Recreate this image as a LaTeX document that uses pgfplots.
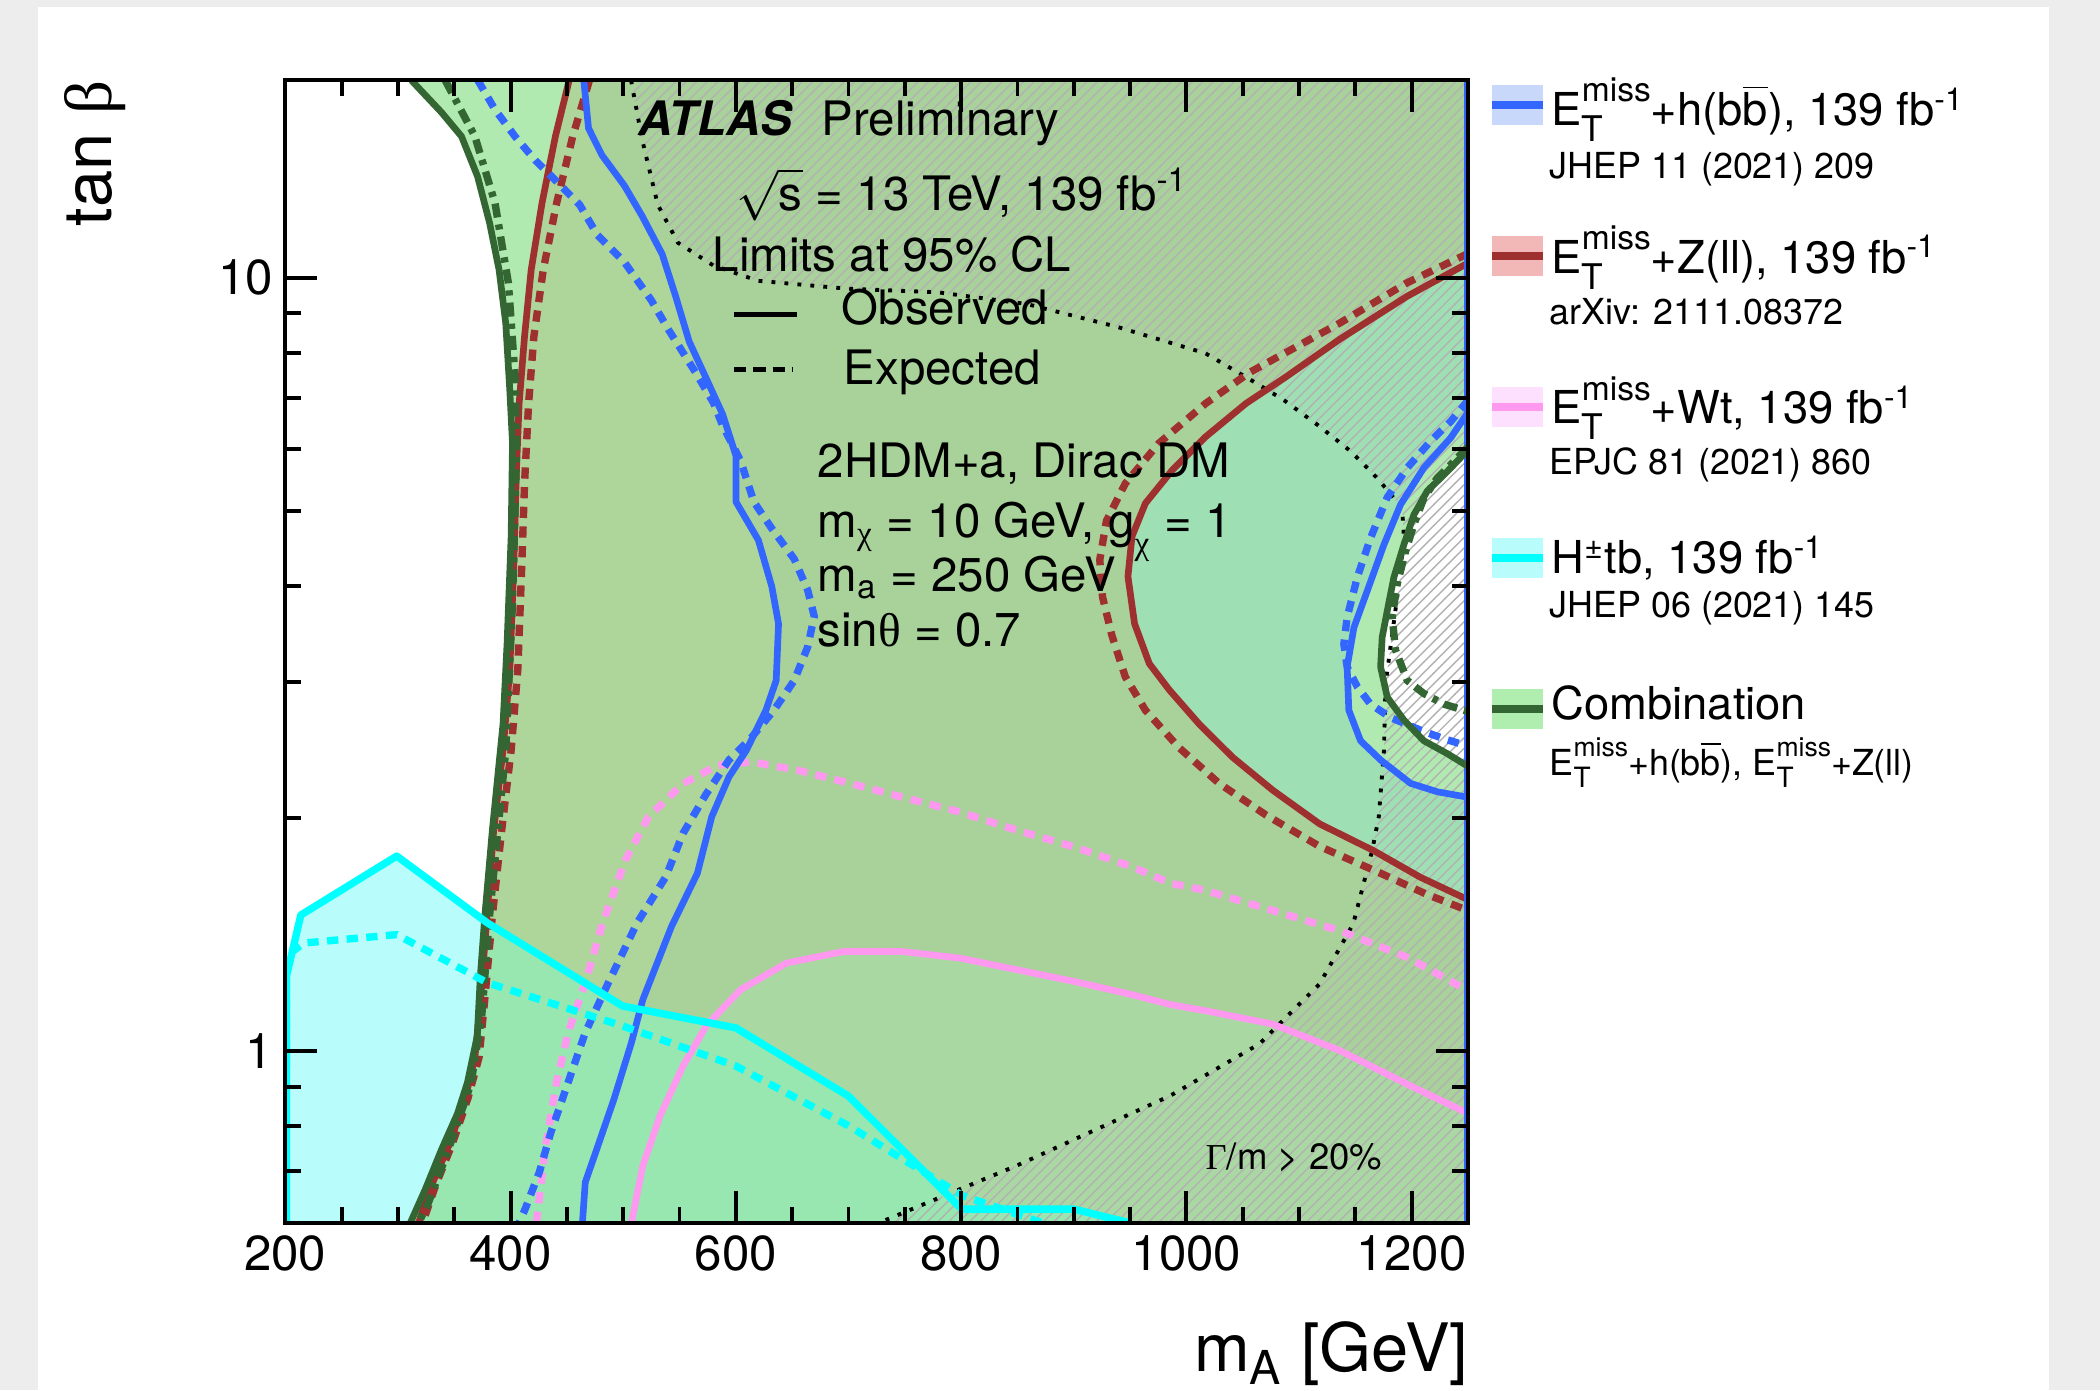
\documentclass[border=0pt]{standalone}
\usepackage{fontspec}
\setmainfont{TeX Gyre Heros}
\newfontfamily\grk{Liberation Serif}
\usepackage{graphicx}
\usepackage{pgfplots}
\pgfplotsset{compat=1.18}
\usetikzlibrary{patterns}
\definecolor{bggray}{HTML}{EDEDED}
\definecolor{cyanonly}{HTML}{B8FCFC}
\definecolor{regA}{HTML}{B0EAB0}
\definecolor{regB}{HTML}{AED69A}
\definecolor{regC}{HTML}{A8D29A}
\definecolor{regD}{HTML}{9EE0B4}
\definecolor{regE}{HTML}{AAD8A2}
\definecolor{regF}{HTML}{98E6B0}
\definecolor{lblue}{HTML}{3366FF}
\definecolor{lred}{HTML}{9E3030}
\definecolor{lpink}{HTML}{FF99F0}
\definecolor{lcyan}{HTML}{00FFFF}
\definecolor{lgreen}{HTML}{336633}
\definecolor{sblue}{HTML}{C8D8FA}
\definecolor{sred}{HTML}{F2B8B8}
\definecolor{spink}{HTML}{FDE0FD}
\definecolor{scyan}{HTML}{B8FCFC}
\definecolor{sgreen}{HTML}{B0EEB0}
\newcommand{\fs}[1]{\fontsize{#1}{#1}\selectfont}
\newcommand{\etmiss}{E\rlap{\raisebox{-0.36em}{\scalebox{0.78}{T}}}\raisebox{0.52em}{\scalebox{0.74}{miss}}}
\newcommand{\bbar}{b$\overline{\mbox{b}}$}
\tikzset{
  sol/.style={line width=1.9pt, line join=round},
  dsh/.style={line width=2.1pt, dash pattern=on 3.2pt off 2.4pt},
  dd/.style={line width=2.1pt, dash pattern=on 4pt off 2pt on 1.5pt off 2pt},
}
\begin{document}
\begin{tikzpicture}
\path[use as bounding box] (0,0) rectangle (210mm,139mm);
\fill[bggray] (0,0) rectangle (210mm,139mm);
\fill[white] (3.75mm,0) rectangle (204.9mm,138.3mm);
\begin{axis}[
  at={(28.53mm,16.72mm)}, anchor=south west,
  scale only axis, width=118.27mm, height=114.24mm,
  xmin=200, xmax=1250, ymin=0.6, ymax=18, ymode=log,
  axis on top,
  xtick={200,400,600,800,1000,1200}, minor x tick num=3,
  ytick={1,10}, yticklabels={1,10},
  minor ytick={0.7,0.8,0.9,2,3,4,5,6,7,8,9},
  tick align=inside, xtick pos=both, ytick pos=both,
  major tick length=3.2mm, minor tick length=1.6mm,
  axis line style={line width=1.1pt},
  tick style={line width=1.1pt, black},
  tick label style={font=\fs{14pt}},
  /pgf/number format/assume math mode=true,
  /pgf/number format/1000 sep={},
]
% ---------- filled regions ----------
\addplot[draw=none, fill=cyanonly] coordinates {(200,0.6) (200,1.25) (213.8,1.5) (298.9,1.788) (379.5,1.465) (499.5,1.144) (600,1.072) (700,0.875) (800.6,0.625) (900.1,0.625) (949.5,0.6)} -- cycle;
\addplot[draw=none, fill=regA] coordinates {(312,18) (338.6,16.37) (356.4,15.24) (370.7,13.52) (381.4,11.77) (389.8,10.24) (395.7,8.74) (399.3,7.16) (401.7,6.11) (400.5,4.63) (396.9,3.37) (393.3,2.65) (383.8,1.93) (377.1,1.494) (373.1,1.246) (370.4,1.046) (361.7,0.911) (352.9,0.831) (338.8,0.747) (324.3,0.663) (311,0.6) (1250,0.6) (1250,18)} -- cycle;
\addplot[draw=none, fill=regB] coordinates {(452,18) (439.8,15.24) (427.9,12.49) (418.3,10.24) (412.4,8.40) (407.6,6.88) (405.2,5.64) (402.9,4.27) (399.3,3.11) (393.3,2.45) (385,1.93) (379,1.496) (373.1,1.151) (368.3,0.982) (360,0.872) (345.7,0.758) (330.2,0.673) (318.3,0.6) (1250,0.6) (1250,18)} -- cycle;
\addplot[draw=none, fill=regC] coordinates {(465,18) (469.2,15.61) (481.1,14.41) (501,13.16) (516.8,12.02) (534.6,10.73) (546.5,9.47) (558.6,8.27) (574.3,7.38) (588.3,6.66) (600.2,5.88) (600.2,5.13) (620,4.58) (631.9,3.99) (637.9,3.57) (635.8,3.015) (626.7,2.76) (609.3,2.449) (593.9,2.263) (578.6,2.01) (565.8,1.698) (542.9,1.45) (517.4,1.166) (507.3,1.026) (491.8,0.867) (476.5,0.747) (466.3,0.677) (463.8,0.6) (1250,0.6) (1250,18)} -- cycle;
\addplot[draw=none, fill=regE] coordinates {(507.3,0.6) (517.4,0.711) (532.7,0.825) (553.1,0.957) (573.6,1.078) (604.2,1.201) (644.9,1.30) (696,1.346) (747,1.346) (798.1,1.32) (849,1.275) (900.1,1.231) (951.2,1.184) (985.8,1.149) (1017.1,1.128) (1076.7,1.084) (1136.2,1.002) (1195.7,0.907) (1250,0.831) (1250,0.6)} -- cycle;
\addplot[draw=none, fill=regD] coordinates {(1250,10.45) (1195.7,9.46) (1136.2,8.33) (1088.6,7.45) (1052.9,6.88) (1017.1,6.23) (987.4,5.64) (963.6,5.11) (951.7,4.63) (948.1,4.11) (954,3.57) (967.1,3.17) (985,2.93) (1011.2,2.65) (1040.9,2.40) (1076.7,2.175) (1118.3,1.968) (1165.9,1.818) (1207.6,1.679) (1250,1.570)} -- cycle;
\addplot[draw=none, fill=regA] coordinates {(1250,6.70) (1234.6,6.21) (1210.8,5.68) (1190.1,5.09) (1175.4,4.52) (1160.6,3.94) (1148.7,3.53) (1142.7,3.14) (1144.2,2.76) (1154.6,2.52) (1172.4,2.38) (1199,2.22) (1222.7,2.165) (1250,2.13)} -- cycle;
\addplot[draw=none, fill=white] coordinates {(1250,5.99) (1231.7,5.62) (1213.8,5.30) (1202,4.94) (1193.1,4.52) (1184.2,4.10) (1178.3,3.71) (1173.8,3.43) (1172.4,3.14) (1178.3,2.87) (1193.1,2.68) (1210.8,2.52) (1231.7,2.425) (1250,2.335)} -- cycle;
\addplot[draw=none, fill=regF] coordinates {(311,0.6) (324.3,0.663) (338.8,0.747) (352.9,0.831) (361.7,0.911) (370.4,1.046) (373.1,1.246) (377.3,1.47) (379.5,1.465) (499.5,1.144) (600,1.072) (700,0.875) (800.6,0.625) (900.1,0.625) (949.5,0.6)} -- cycle;
\addplot[draw=none, pattern=north east lines, pattern color=gray!60] coordinates {(507,18) (516.8,15.09) (530.7,12.43) (548.6,11.10) (580.2,10.37) (620,9.91) (699.4,9.68) (778.7,9.58) (858.1,9.25) (937.5,8.65) (1016.8,7.99) (1059.8,7.34) (1086.4,6.95) (1116.1,6.46) (1145.7,5.97) (1169.4,5.51) (1184.2,5.19) (1191.7,4.99) (1193.1,4.61) (1188.7,4.02) (1182.7,3.46) (1176.8,2.985) (1175.4,2.449) (1170.8,2.01) (1165,1.82) (1148.1,1.461) (1118.3,1.222) (1064.8,1.022) (985.7,0.876) (849,0.711) (727,0.6) (1250,0.6) (1250,18)} -- cycle;
% ---------- width boundary ----------
\addplot[black, line width=1.1pt, dash pattern=on 1.1pt off 2.6pt] coordinates {(507,18) (516.8,15.09) (530.7,12.43) (548.6,11.10) (580.2,10.37) (620,9.91) (699.4,9.68) (778.7,9.58) (858.1,9.25) (937.5,8.65) (1016.8,7.99) (1059.8,7.34) (1086.4,6.95) (1116.1,6.46) (1145.7,5.97) (1169.4,5.51) (1184.2,5.19) (1191.7,4.99) (1193.1,4.61) (1188.7,4.02) (1182.7,3.46) (1176.8,2.985) (1175.4,2.449) (1170.8,2.01) (1165,1.82) (1148.1,1.461) (1118.3,1.222) (1064.8,1.022) (985.7,0.876) (849,0.711) (727,0.6)};
% ---------- Wt ----------
\addplot[lpink, dsh] coordinates {(423,0.6) (430.6,0.747) (440.8,0.911) (451.1,1.057) (466.3,1.226) (481.7,1.465) (502,1.767) (522.5,2.01) (553.1,2.218) (583.8,2.343) (614.3,2.366) (655.1,2.308) (696,2.23) (747,2.132) (798.1,2.04) (849,1.932) (900.1,1.838) (951.2,1.733) (985.8,1.649) (1017.1,1.614) (1136.2,1.432) (1195.7,1.323) (1250,1.198)};
\addplot[lpink, sol] coordinates {(507.3,0.6) (517.4,0.711) (532.7,0.825) (553.1,0.957) (573.6,1.078) (604.2,1.201) (644.9,1.30) (696,1.346) (747,1.346) (798.1,1.32) (849,1.275) (900.1,1.231) (951.2,1.184) (985.8,1.149) (1017.1,1.128) (1076.7,1.084) (1136.2,1.002) (1195.7,0.907) (1250,0.831)};
% ---------- Z(ll) ----------
\addplot[lred, dsh] coordinates {(470,18) (455.2,15.24) (440.9,12.49) (429,10.24) (420.7,8.40) (416,6.88) (412.4,5.42) (410,4.27) (406.4,3.11) (400.5,2.45) (392.1,1.93) (383.8,1.496) (376.7,1.151) (372,0.982) (362.4,0.872) (348.1,0.758) (333.8,0.673) (321.9,0.6)};
\addplot[lred, sol] coordinates {(452,18) (439.8,15.24) (427.9,12.49) (418.3,10.24) (412.4,8.40) (407.6,6.88) (405.2,5.64) (402.9,4.27) (399.3,3.11) (393.3,2.45) (385,1.93) (379,1.496) (373.1,1.151) (368.3,0.982) (360,0.872) (345.7,0.758) (330.2,0.673) (318.3,0.6)};
\addplot[lred, dsh] coordinates {(1250,10.75) (1195.7,9.85) (1136.2,8.74) (1088.6,8.01) (1056.4,7.55) (1017.1,6.88) (975.5,6.11) (945.7,5.42) (929,4.85) (923.1,4.32) (925.5,3.87) (933.8,3.45) (945.7,3.05) (963.6,2.76) (993.3,2.47) (1029,2.22) (1070.7,2.02) (1118.3,1.84) (1171.9,1.70) (1213.6,1.595) (1250,1.52)};
\addplot[lred, sol] coordinates {(1250,10.45) (1195.7,9.46) (1136.2,8.33) (1088.6,7.45) (1052.9,6.88) (1017.1,6.23) (987.4,5.64) (963.6,5.11) (951.7,4.63) (948.1,4.11) (954,3.57) (967.1,3.17) (985,2.93) (1011.2,2.65) (1040.9,2.40) (1076.7,2.175) (1118.3,1.968) (1165.9,1.818) (1207.6,1.679) (1250,1.570)};
% ---------- h(bb) ----------
\addplot[lblue, dsh] coordinates {(371,18) (386.2,16.50) (404,15.23) (421.9,14.19) (439.8,13.37) (461.3,12.43) (477.1,11.36) (501,10.48) (524.8,9.36) (540.6,8.55) (564.4,7.54) (580.2,6.89) (588.3,6.44) (604,5.81) (616.1,5.13) (631.9,4.74) (651.8,4.33) (663.7,3.95) (669.6,3.65) (663.7,3.33) (651.8,3.015) (633.8,2.76) (612.4,2.53) (593.9,2.38) (573.6,2.15) (553.1,1.913) (537.9,1.682) (512.3,1.465) (486.8,1.226) (466.3,1.057) (456.1,0.957) (446,0.867) (435.7,0.785) (425.6,0.698) (412.9,0.625) (407.6,0.6)};
\addplot[lblue, sol] coordinates {(465,18) (469.2,15.61) (481.1,14.41) (501,13.16) (516.8,12.02) (534.6,10.73) (546.5,9.47) (558.6,8.27) (574.3,7.38) (588.3,6.66) (600.2,5.88) (600.2,5.13) (620,4.58) (631.9,3.99) (637.9,3.57) (635.8,3.015) (626.7,2.76) (609.3,2.449) (593.9,2.263) (578.6,2.01) (565.8,1.698) (542.9,1.45) (517.4,1.166) (507.3,1.026) (491.8,0.867) (476.5,0.747) (466.3,0.677) (463.8,0.6)};
\addplot[lblue, dsh] coordinates {(1250,6.94) (1234.6,6.52) (1216.8,6.15) (1196.1,5.68) (1178.3,5.20) (1163.5,4.61) (1151.7,4.10) (1142.7,3.64) (1139.8,3.36) (1142.7,3.14) (1151.7,2.96) (1163.5,2.81) (1181.3,2.70) (1208,2.60) (1228.7,2.535) (1250,2.48)};
\addplot[lblue, sol] coordinates {(1250,6.70) (1234.6,6.21) (1210.8,5.68) (1190.1,5.09) (1175.4,4.52) (1160.6,3.94) (1148.7,3.53) (1142.7,3.14) (1144.2,2.76) (1154.6,2.52) (1172.4,2.38) (1199,2.22) (1222.7,2.165) (1250,2.13)};
\addplot[lblue, line width=2.4pt] coordinates {(1250,0.6) (1250,18)};
% ---------- combination ----------
\addplot[lgreen, dd] coordinates {(342,18) (368.3,15.24) (386.2,12.49) (398.1,9.84) (404,7.45) (405.2,5.87) (401.7,3.80) (395.7,2.45) (381.4,1.50) (374.3,1.106) (364.8,0.908) (344.5,0.744) (326.7,0.635) (318.3,0.6)};
\addplot[lgreen, sol] coordinates {(312,18) (338.6,16.37) (356.4,15.24) (370.7,13.52) (381.4,11.77) (389.8,10.24) (395.7,8.74) (399.3,7.16) (401.7,6.11) (400.5,4.63) (396.9,3.37) (393.3,2.65) (383.8,1.93) (377.1,1.494) (373.1,1.246) (370.4,1.046) (361.7,0.911) (352.9,0.831) (338.8,0.747) (324.3,0.663) (311,0.6)};
\addplot[lgreen, dd] coordinates {(1250,6.04) (1222.7,5.51) (1210.8,5.19) (1202,4.80) (1194.6,4.43) (1187.1,4.02) (1182.7,3.64) (1185.7,3.30) (1196.1,3.015) (1210.8,2.90) (1228.7,2.81) (1250,2.75)};
\addplot[lgreen, sol] coordinates {(1250,5.99) (1231.7,5.62) (1213.8,5.30) (1202,4.94) (1193.1,4.52) (1184.2,4.10) (1178.3,3.71) (1173.8,3.43) (1172.4,3.14) (1178.3,2.87) (1193.1,2.68) (1210.8,2.52) (1231.7,2.425) (1250,2.335)};
% ---------- H+tb ----------
\addplot[lcyan, dsh] coordinates {(201,0.95) (201,1.327) (216.3,1.38) (298.9,1.415) (379.5,1.226) (499.5,1.078) (600,0.957) (700,0.801) (800.6,0.651) (872,0.6)};
\addplot[lcyan, sol, line width=2.1pt] coordinates {(201,0.6) (201,1.25) (213.8,1.5) (298.9,1.788) (379.5,1.465) (499.5,1.144) (600,1.072) (700,0.875) (800.6,0.625) (900.1,0.625) (949.5,0.6)};
\end{axis}
% ---------- in-plot text ----------
\begin{scope}[every node/.style={anchor=base west, inner sep=0pt, font=\fs{13.5pt}}]
\node at (63.8mm,125.45mm) {\textbf{\textit{ATLAS}}};
\node at (82.1mm,125.45mm) {Preliminary};
\node at (73.6mm,117.99mm) {$\sqrt{\mbox{s}}$ = 13 TeV, 139 fb\textsuperscript{-1}};
\node at (71.2mm,111.86mm) {Limits at 95\% CL};
\node at (84.1mm,106.5mm) {Observed};
\node at (84.3mm,100.58mm) {Expected};
\node at (81.7mm,91.2mm) {2HDM+a, Dirac DM};
\node at (81.7mm,85.27mm) {m\textsubscript{\grk χ} = 10 GeV, g\textsubscript{\raisebox{-0.3em}{\grk χ}} = 1};
\node at (81.7mm,79.87mm) {m\textsubscript{a} = 250 GeV};
\node at (81.7mm,74.36mm) {sin{\grk θ} = 0.7};
\node[font=\fs{10.4pt}] at (120.5mm,22.1mm) {{\grk Γ}/m > 20\%};
\end{scope}
\draw[line width=1.5pt] (73.4mm,107.58mm) -- (79.65mm,107.58mm);
\draw[line width=1.5pt, dash pattern=on 3.5pt off 2pt] (73.4mm,102.03mm) -- (79.3mm,102.03mm);
% ---------- axis titles ----------
\node[anchor=base east, inner sep=0pt, font=\fs{19pt}] at (146.9mm,1.9mm) {m\textsubscript{A} [GeV]};
\node[rotate=90, anchor=base east, inner sep=0pt, font=\fs{19pt}] at (11.1mm,131mm) {tan {\grk β}};
% ---------- legend ----------
\foreach \yc/\cf/\cl in {128.49/sblue/lblue, 113.37/sred/lred, 98.34/spink/lpink, 83.22/scyan/lcyan, 68.14/sgreen/lgreen}{
  \fill[\cf] (149.15mm,\yc mm-2mm) rectangle (154.31mm,\yc mm+2mm);
  \draw[\cl, line width=0.8mm] (149.15mm,\yc mm) -- (154.31mm,\yc mm);
}
\begin{scope}[every node/.style={anchor=base west, inner sep=0pt, font=\fs{12.9pt}}]
\node at (155.1mm,126.46mm) {\etmiss+h(\bbar), 139 fb\textsuperscript{-1}};
\node at (155.1mm,111.67mm) {\etmiss+Z(ll), 139 fb\textsuperscript{-1}};
\node at (155.1mm,96.64mm) {\etmiss+Wt, 139 fb\textsuperscript{-1}};
\node at (155.1mm,81.62mm) {H\textsuperscript{±}tb, 139 fb\textsuperscript{-1}};
\node at (155.1mm,67.08mm) {Combination};
\end{scope}
\begin{scope}[every node/.style={anchor=base west, inner sep=0pt, font=\fs{10.2pt}}]
\node at (154.9mm,121.12mm) {JHEP 11 (2021) 209};
\node at (154.9mm,106.58mm) {arXiv: 2111.08372};
\node at (154.9mm,91.56mm) {EPJC 81 (2021) 860};
\node at (154.9mm,77.26mm) {JHEP 06 (2021) 145};
\node at (154.9mm,61.5mm) {\etmiss+h(\bbar), \etmiss+Z(ll)};
\end{scope}
\end{tikzpicture}
\end{document}
